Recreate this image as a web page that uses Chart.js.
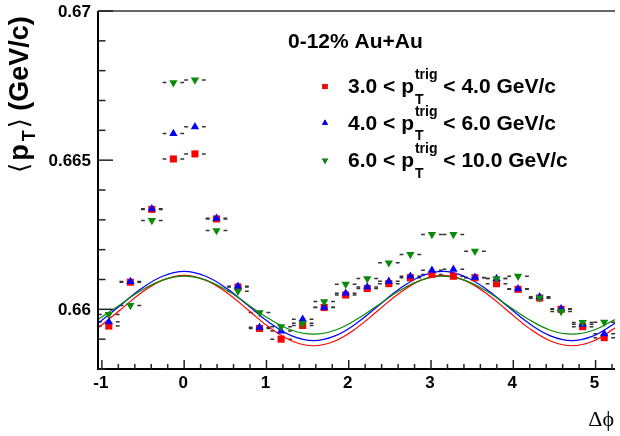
<!DOCTYPE html>
<html>
<head>
<meta charset="utf-8">
<script src="https://cdn.jsdelivr.net/npm/chart.js@4/dist/chart.umd.min.js"></script>
<style>
  html, body { margin: 0; padding: 0; background: #fff; }
  #wrap { width: 620px; height: 436px; position: relative; }
</style>
</head>
<body>
<div id="wrap"><canvas id="meanPtChart"></canvas></div>
<script>
// bin centres in delta phi (24 bins from -pi/3 to 5pi/3)
const dphi = [-0.916, -0.654, -0.393, -0.131, 0.131, 0.393, 0.654, 0.916, 1.178, 1.440, 1.702, 1.963,
              2.225, 2.487, 2.749, 3.011, 3.272, 3.534, 3.796, 4.058, 4.320, 4.581, 4.843, 5.105];
const binHalfWidth = 0.131;

// <pT> of associated particles, one array per trigger pT window
const meanPtLow = [0.65944, 0.66091, 0.66335, 0.66504, 0.66521, 0.66303, 0.66075, 0.65936, 0.65900, 0.65946, 0.66006, 0.66048,
                   0.66070, 0.66086, 0.66106, 0.66117, 0.66111, 0.66106, 0.66086, 0.66067, 0.66038, 0.66000, 0.65942, 0.65905];
const meanPtMid = [0.65958, 0.66093, 0.66337, 0.66589, 0.66612, 0.66305, 0.66077, 0.65940, 0.65927, 0.65967, 0.66007, 0.66054,
                   0.66075, 0.66094, 0.66111, 0.66131, 0.66134, 0.66107, 0.66103, 0.66069, 0.66042, 0.66002, 0.65950, 0.65918];
const meanPtHigh = [0.65983, 0.66013, 0.66298, 0.66760, 0.66769, 0.66264, 0.66061, 0.65989, 0.65942, 0.65953, 0.66026, 0.66084,
                    0.66103, 0.66156, 0.66184, 0.66251, 0.66251, 0.66195, 0.66103, 0.66111, 0.66038, 0.65993, 0.65956, 0.65957];

// fit curves, every pi/12
const fitX = [-1.047, -0.785, -0.524, -0.262, 0, 0.262, 0.524, 0.785, 1.047, 1.309, 1.571, 1.833, 2.094,
              2.356, 2.618, 2.880, 3.142, 3.403, 3.665, 3.927, 4.189, 4.451, 4.712, 4.974, 5.236];
const fitLow = [0.65937, 0.65996, 0.66055, 0.66098, 0.66114, 0.66098, 0.66055, 0.65996, 0.65937, 0.65894, 0.65878, 0.65894, 0.65937,
                0.65996, 0.66055, 0.66098, 0.66114, 0.66098, 0.66055, 0.65996, 0.65937, 0.65894, 0.65878, 0.65894, 0.65937];
const fitMid = [0.65953, 0.66011, 0.66069, 0.66111, 0.66127, 0.66111, 0.66069, 0.66011, 0.65953, 0.65911, 0.65895, 0.65911, 0.65953,
                0.66011, 0.66069, 0.66111, 0.66127, 0.66111, 0.66069, 0.66011, 0.65953, 0.65911, 0.65895, 0.65911, 0.65953];
const fitHigh = [0.65966, 0.66014, 0.66063, 0.66098, 0.66111, 0.66098, 0.66063, 0.66014, 0.65966, 0.65930, 0.65917, 0.65930, 0.65966,
                 0.66014, 0.66063, 0.66098, 0.66111, 0.66098, 0.66063, 0.66014, 0.65966, 0.65930, 0.65917, 0.65930, 0.65966];

// axis ticks and labels
const xTickValues = [-1, 0, 1, 2, 3, 4, 5];
const xTickLabels = ['-1', '0', '1', '2', '3', '4', '5'];
const yTickValues = [0.66, 0.665, 0.67];
const yTickLabels = ['0.66', '0.665', '0.67'];

const centralityLabel = '0-12% Au+Au';
const trigLow = ['3.0', '4.0', '6.0'];
const trigHigh = ['4.0', '6.0', '10.0'];
const seriesColors = ['#ff0000', '#0000ff', '#0a8a0a'];

const SANS = '"Liberation Sans", Arial, Helvetica, sans-serif';

function pairs(xs, ys) {
    return ys.map((v, i) => ({x: xs[i], y: v}));
}

// horizontal bin-width bars, with a gap around the marker
function drawErrorBars(chart) {
    const {ctx, scales: {x, y}} = chart;
    ctx.save();
    ctx.strokeStyle = '#333';
    ctx.lineWidth = 1.5;
    [meanPtLow, meanPtMid, meanPtHigh].forEach(vals => {
        vals.forEach((v, i) => {
            const cx = x.getPixelForValue(dphi[i]);
            const x0 = x.getPixelForValue(dphi[i] - binHalfWidth);
            const x1 = x.getPixelForValue(dphi[i] + binHalfWidth);
            const py = y.getPixelForValue(v);
            ctx.beginPath();
            ctx.moveTo(x0, py); ctx.lineTo(cx - 7, py);
            ctx.moveTo(cx + 7, py); ctx.lineTo(x1, py);
            ctx.stroke();
        });
    });
    ctx.restore();
}

function drawFrame(chart) {
    const {ctx, chartArea: {left, right, top, bottom}, scales: {x, y}} = chart;
    ctx.save();
    ctx.strokeStyle = '#333';
    ctx.lineWidth = 1.5;
    ctx.beginPath(); ctx.moveTo(left, top); ctx.lineTo(right, top); ctx.stroke();
    ctx.strokeStyle = '#000';
    ctx.lineWidth = 2;
    ctx.beginPath(); ctx.moveTo(left, top); ctx.lineTo(left, bottom); ctx.lineTo(right, bottom); ctx.stroke();

    // ticks drawn inside the frame
    ctx.lineWidth = 1.5;
    ctx.strokeStyle = '#222';
    for (let k = 658; k <= 670; k++) {
        const py = y.getPixelForValue(k / 1000);
        const len = k % 5 === 0 ? 15 : 7.5;
        ctx.beginPath(); ctx.moveTo(left, py); ctx.lineTo(left + len, py); ctx.stroke();
    }
    for (let k = -5; k <= 26; k++) {
        const px = x.getPixelForValue(k / 5);
        const len = k % 5 === 0 ? 9 : 5;
        ctx.beginPath(); ctx.moveTo(px, bottom); ctx.lineTo(px, bottom - len); ctx.stroke();
    }

    ctx.fillStyle = '#000';
    ctx.font = 'bold 17px ' + SANS;
    ctx.textAlign = 'right';
    ctx.textBaseline = 'middle';
    yTickValues.forEach((v, i) => ctx.fillText(yTickLabels[i], left - 7, y.getPixelForValue(v) + 1));
    ctx.textAlign = 'center';
    xTickValues.forEach((v, i) => ctx.fillText(xTickLabels[i], x.getPixelForValue(v) - 1, bottom + 14));

    // x title
    ctx.textAlign = 'right';
    ctx.textBaseline = 'alphabetic';
    ctx.font = '22px "Liberation Serif", "Times New Roman", serif';
    ctx.fillText('\u0394\u03d5', 614, 426);

    // y title, rotated
    ctx.save();
    ctx.translate(27.5, 173);
    ctx.rotate(-Math.PI / 2);
    ctx.textAlign = 'left';
    let px = 0;
    ctx.font = '26px "DejaVu Sans", sans-serif';
    ctx.fillText('\u27e8', px, 0);
    px += ctx.measureText('\u27e8').width + 2;
    ctx.font = 'bold 27px ' + SANS;
    ctx.fillText('p', px, 0);
    px += ctx.measureText('p').width + 3;
    ctx.font = 'bold 18px ' + SANS;
    ctx.fillText('T', px, 7);
    px += ctx.measureText('T').width + 2;
    ctx.font = '26px "DejaVu Sans", sans-serif';
    ctx.fillText('\u27e9', px, 0);
    px += ctx.measureText('\u27e9').width;
    ctx.font = 'bold 27px ' + SANS;
    ctx.fillText(' (GeV/c)', px, 0);
    ctx.restore();
    ctx.restore();
}

function drawLegend(chart) {
    const ctx = chart.ctx;
    ctx.save();
    ctx.fillStyle = '#000';
    ctx.textAlign = 'left';
    ctx.textBaseline = 'alphabetic';
    ctx.font = 'bold 21px ' + SANS;
    ctx.fillText(centralityLabel, 288, 48);

    const baselines = [93, 129.5, 167];
    const markerDatasets = [2, 1, 0];
    baselines.forEach((base, i) => {
        const ds = chart.data.datasets[markerDatasets[i]];
        Chart.helpers.drawPoint(ctx, {
            pointStyle: ds.pointStyle, rotation: ds.rotation || 0,
            radius: ds.pointRadius * 0.72, borderWidth: 0
        }, 325, base - 6.5);
        ctx.fillStyle = ds.backgroundColor;
        ctx.fill();

        ctx.fillStyle = '#000';
        ctx.font = 'bold 21px ' + SANS;
        const head = trigLow[i] + ' < p';
        let x = 348;
        ctx.fillText(head, x, base);
        x += ctx.measureText(head).width;
        ctx.font = 'bold 14px ' + SANS;
        ctx.fillText('trig', x + 1, base - 14);
        ctx.fillText('T', x + 1, base + 10.5);
        x += ctx.measureText('trig').width + 1;
        ctx.font = 'bold 21px ' + SANS;
        ctx.fillText(' < ' + trigHigh[i] + ' GeV/c', x, base);
    });
    ctx.restore();
}

const rootStyle = {
    id: 'rootStyle',
    beforeDatasetsDraw(chart) { drawErrorBars(chart); },
    afterDraw(chart) { drawFrame(chart); drawLegend(chart); }
};

document.addEventListener('DOMContentLoaded', function() {
    const meanPtChart = document.getElementById('meanPtChart');

    new Chart(meanPtChart, {
        type: 'scatter',
        data: {
            datasets: [{
                data: pairs(dphi, meanPtHigh),
                pointStyle: 'triangle', rotation: 180, pointRadius: 4.8,
                backgroundColor: seriesColors[2], borderWidth: 0, order: 0
            }, {
                data: pairs(dphi, meanPtMid),
                pointStyle: 'triangle', pointRadius: 4.8,
                backgroundColor: seriesColors[1], borderWidth: 0, order: 1
            }, {
                data: pairs(dphi, meanPtLow),
                pointStyle: 'rect', pointRadius: 5,
                backgroundColor: seriesColors[0], borderWidth: 0, order: 2
            }, {
                type: 'line', data: pairs(fitX, fitHigh), borderColor: seriesColors[2],
                borderWidth: 1.2, pointRadius: 0, tension: 0.4, fill: false, order: 3
            }, {
                type: 'line', data: pairs(fitX, fitMid), borderColor: seriesColors[1],
                borderWidth: 1.2, pointRadius: 0, tension: 0.4, fill: false, order: 4
            }, {
                type: 'line', data: pairs(fitX, fitLow), borderColor: seriesColors[0],
                borderWidth: 1.2, pointRadius: 0, tension: 0.4, fill: false, order: 5
            }]
        },
        options: {
            responsive: true,
            maintainAspectRatio: false,
            animation: false,
            layout: { padding: { left: 98, top: 11, right: 0, bottom: 67 } },
            scales: {
                x: { type: 'linear', min: -Math.PI / 3, max: 5 * Math.PI / 3, display: false },
                y: { type: 'linear', min: 0.658, max: 0.67, display: false }
            },
            plugins: {
                legend: { display: false },
                tooltip: { enabled: false }
            }
        },
        plugins: [rootStyle]
    });
});
</script>
</body>
</html>
